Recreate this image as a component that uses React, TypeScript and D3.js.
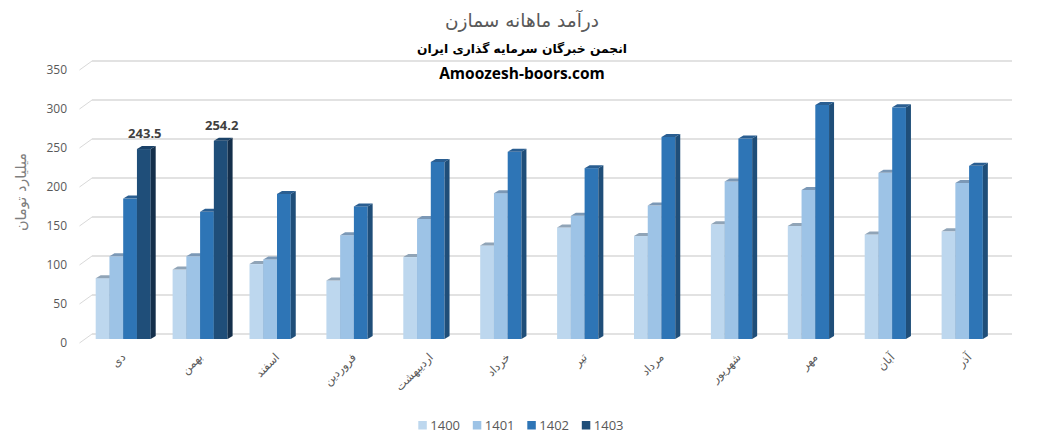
import React from "react";
import * as d3 from "d3";

const categories = ["دی", "بهمن", "اسفند", "فروردین", "اردیبهشت", "خرداد", "تیر", "مرداد", "شهریور", "مهر", "آبان", "آذر"];
const seriesNames = ["1400", "1401", "1402", "1403"];
const s1400 = [78, 89, 96, 75, 105, 120, 143, 132, 147, 145, 134, 138];
const s1401 = [106, 106, 102, 133, 154, 187, 158, 171, 202, 191, 213, 200];
const s1402 = [180, 163, 186, 170, 227, 240, 219, 259, 257, 300, 297, 222];
const s1403: (number | null)[] = [243.5, 254.2, null, null, null, null, null, null, null, null, null, null];
const yTicks = [0, 50, 100, 150, 200, 250, 300, 350];
const titleLines = ["درآمد ماهانه سمازن", "انجمن خبرگان سرمایه گذاری ایران", "Amoozesh-boors.com"];
const yAxisTitle = "میلیارد تومان";

const frontColors = ["#BDD7EE", "#9DC3E6", "#2E75B6", "#1F4E79"];
const topColors = ["#90A4B7", "#7B98B6", "#2A5E91", "#1B4268"];
const sideColors = ["#8FA7BE", "#7895B3", "#1F4E79", "#142F4B"];

const W = 1045;
const H = 445;

export default function App() {
  const seriesData = [s1400, s1401, s1402, s1403];
  const x = d3.scaleBand<string>().domain(categories).range([84.8, 84.8 + 12 * 76.9]);
  const sub = d3.scaleBand<string>().domain(seriesNames).range([10.9, 65.9]);
  const yBar = d3.scaleLinear().domain([0, 350]).range([339, 66]);
  const yFront = d3.scaleLinear().domain([0, 350]).range([343, 70]);
  const wallDx = 12.5;
  const wallDy = -9;
  const wallRight = 1012;
  const bdx = 5;
  const bdy = -3;
  const numFont = "'Open Sans', 'Liberation Sans', sans-serif";
  const faFont = "'DejaVu Sans', sans-serif";

  const bars: React.ReactNode[] = [];
  categories.forEach((c, ci) => {
    seriesData.forEach((arr, si) => {
      const v = arr[ci];
      if (v == null) return;
      const x0 = (x(c) as number) + (sub(seriesNames[si]) as number);
      const w = sub.bandwidth();
      const yt = yBar(v);
      const yb = yBar(0);
      bars.push(
        <g key={`${ci}-${si}`}>
          <rect x={x0} y={yt} width={w} height={yb - yt} fill={frontColors[si]} />
          <polygon
            points={`${x0},${yt} ${x0 + w},${yt} ${x0 + w + bdx},${yt + bdy} ${x0 + bdx},${yt + bdy}`}
            fill={topColors[si]}
          />
          <polygon
            points={`${x0 + w},${yt} ${x0 + w + bdx},${yt + bdy} ${x0 + w + bdx},${yb + bdy} ${x0 + w},${yb}`}
            fill={sideColors[si]}
          />
        </g>
      );
    });
  });

  const labels: React.ReactNode[] = [];
  s1403.forEach((v, ci) => {
    if (v == null) return;
    const x0 = (x(categories[ci]) as number) + (sub("1403") as number);
    const cx = x0 + sub.bandwidth() / 2 + 1;
    labels.push(
      <text
        key={`l${ci}`}
        x={cx}
        y={yBar(v) - 11}
        textAnchor="middle"
        fontFamily={numFont}
        fontWeight="bold"
        fontSize={13}
        fill="#404040"
      >
        {v.toFixed(1)}
      </text>
    );
  });

  return (
    <svg
      width={W}
      height={H}
      style={{ position: "absolute", left: 0, top: 0, background: "#fff" }}
    >
      <rect x={0} y={0} width={W} height={H} fill="#fff" />
      {yTicks.map((t) => (
        <g key={t}>
          <line
            x1={79.5}
            y1={yFront(t)}
            x2={79.5 + wallDx}
            y2={yFront(t) + wallDy}
            stroke="#D9D9D9"
            strokeWidth={1}
          />
          <line
            x1={79.5 + wallDx}
            y1={yFront(t) + wallDy}
            x2={wallRight}
            y2={yFront(t) + wallDy}
            stroke="#D9D9D9"
            strokeWidth={1.3}
          />
          <text
            x={67}
            y={yFront(t)}
            dy="0.35em"
            textAnchor="end"
            fontFamily={numFont}
            fontSize={12}
            fill="#595959"
          >
            {t}
          </text>
        </g>
      ))}
      {bars}
      {labels}
      <text x={522} y={27} textAnchor="middle" fontFamily={faFont} fontSize={18.5} fill="#595959">
        {titleLines[0]}
      </text>
      <text x={522} y={53} textAnchor="middle" fontFamily={faFont} fontWeight="bold" fontSize={12.3} fill="#000">
        {titleLines[1]}
      </text>
      <text x={522} y={79} textAnchor="middle" fontFamily={numFont} fontWeight="bold" fontSize={15.5} fill="#000">
        {titleLines[2]}
      </text>
      <text
        transform={`translate(26, 192) rotate(-90)`}
        textAnchor="middle"
        fontFamily={faFont}
        fontSize={14.5}
        fill="#7F7F7F"
      >
        {yAxisTitle}
      </text>
      {categories.map((c) => {
        const cx = (x(c) as number) + x.bandwidth() / 2 + 3;
        return (
          <text
            key={c}
            transform={`translate(${cx}, 358) rotate(-45)`}
            textAnchor="end"
            fontFamily={faFont}
            fontSize={11.5}
            fill="#595959"
          >
            {c}
          </text>
        );
      })}
      {seriesNames.map((s, i) => {
        const lx = 418.3 + i * 54.5;
        return (
          <g key={s}>
            <rect x={lx} y={421} width={8.5} height={8.5} fill={frontColors[i]} />
            <text x={lx + 12} y={425.5} dy="0.35em" fontFamily={numFont} fontSize={13} fill="#595959">
              {s}
            </text>
          </g>
        );
      })}
    </svg>
  );
}
